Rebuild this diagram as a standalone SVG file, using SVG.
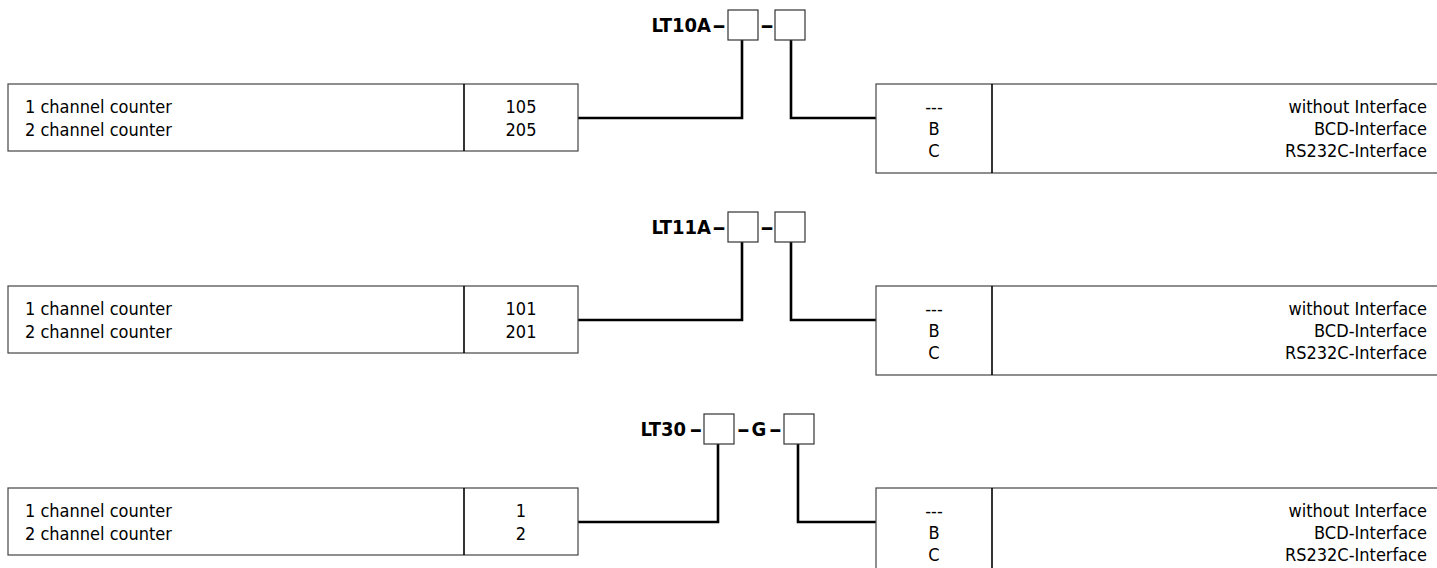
<svg xmlns="http://www.w3.org/2000/svg" width="1437" height="568" viewBox="0 0 1437 568">
<style>
.t{font-family:"DejaVu Sans Condensed","DejaVu Sans",sans-serif;font-stretch:condensed;font-size:18px;fill:#000}
.b{font-family:"DejaVu Sans Condensed","DejaVu Sans",sans-serif;font-stretch:condensed;font-size:20px;font-weight:bold;fill:#000}
.d{font-family:"DejaVu Sans",sans-serif;font-size:20px;font-weight:bold;fill:#000;text-anchor:middle}
.box{fill:#fff;stroke:#444;stroke-width:1.2}
.div{stroke:#000;stroke-width:1.6}
.sq{fill:#fff;stroke:#333;stroke-width:1.2}
.c{fill:none;stroke:#000;stroke-width:2.6}
.m{text-anchor:middle}
.e{text-anchor:end}
</style>
<rect width="1437" height="568" fill="#fff"/>
<g id="connectors">
<polyline class="c" points="578,118 742,118 742,40"/>
<polyline class="c" points="791,40 791,118 876,118"/>
<polyline class="c" points="578,320 742,320 742,242"/>
<polyline class="c" points="791,242 791,320 876,320"/>
<polyline class="c" points="578,522 718,522 718,444"/>
<polyline class="c" points="798,444 798,522 876,522"/>
</g>
<g id="code1">
<text class="b e" x="711" y="32">LT10A</text>
<text class="d" transform="translate(719,32) scale(1.7,1)">-</text>
<rect class="sq" x="728" y="10" width="30" height="30"/>
<text class="d" transform="translate(767,32) scale(1.7,1)">-</text>
<rect class="sq" x="775" y="10" width="30" height="30"/>
</g>
<g id="counter1">
<rect class="box" x="8" y="84" width="570" height="67"/>
<line class="div" x1="464" y1="84" x2="464" y2="151"/>
<text class="t" x="25" y="112.5">1 channel counter</text>
<text class="t" x="25" y="135.5">2 channel counter</text>
<text class="t m" x="521" y="112.5">105</text>
<text class="t m" x="521" y="135.5">205</text>
</g>
<g id="interface1">
<rect class="box" x="876" y="84" width="570" height="89"/>
<line class="div" x1="992" y1="84" x2="992" y2="173"/>
<text class="t m" x="934" y="112.5">---</text>
<text class="t m" x="934" y="135">B</text>
<text class="t m" x="934" y="157">C</text>
<text class="t e" x="1427" y="112.5">without Interface</text>
<text class="t e" x="1427" y="135">BCD-Interface</text>
<text class="t e" x="1427" y="157">RS232C-Interface</text>
</g>
<g id="code2">
<text class="b e" x="711" y="234">LT11A</text>
<text class="d" transform="translate(719,234) scale(1.7,1)">-</text>
<rect class="sq" x="728" y="212" width="30" height="30"/>
<text class="d" transform="translate(767,234) scale(1.7,1)">-</text>
<rect class="sq" x="775" y="212" width="30" height="30"/>
</g>
<g id="counter2">
<rect class="box" x="8" y="286" width="570" height="67"/>
<line class="div" x1="464" y1="286" x2="464" y2="353"/>
<text class="t" x="25" y="314.5">1 channel counter</text>
<text class="t" x="25" y="337.5">2 channel counter</text>
<text class="t m" x="521" y="314.5">101</text>
<text class="t m" x="521" y="337.5">201</text>
</g>
<g id="interface2">
<rect class="box" x="876" y="286" width="570" height="89"/>
<line class="div" x1="992" y1="286" x2="992" y2="375"/>
<text class="t m" x="934" y="314.5">---</text>
<text class="t m" x="934" y="337">B</text>
<text class="t m" x="934" y="359">C</text>
<text class="t e" x="1427" y="314.5">without Interface</text>
<text class="t e" x="1427" y="337">BCD-Interface</text>
<text class="t e" x="1427" y="359">RS232C-Interface</text>
</g>
<g id="code3">
<text class="b e" x="686" y="436">LT30</text>
<text class="d" transform="translate(696,436) scale(1.6,1)">-</text>
<rect class="sq" x="704" y="414" width="30" height="30"/>
<text class="d" transform="translate(743.5,436) scale(1.6,1)">-</text>
<text class="b m" x="759" y="436">G</text>
<text class="d" transform="translate(775.5,436) scale(1.6,1)">-</text>
<rect class="sq" x="784" y="414" width="30" height="30"/>
</g>
<g id="counter3">
<rect class="box" x="8" y="488" width="570" height="67"/>
<line class="div" x1="464" y1="488" x2="464" y2="555"/>
<text class="t" x="25" y="516.5">1 channel counter</text>
<text class="t" x="25" y="539.5">2 channel counter</text>
<text class="t m" x="521" y="516.5">1</text>
<text class="t m" x="521" y="539.5">2</text>
</g>
<g id="interface3">
<rect class="box" x="876" y="488" width="570" height="89"/>
<line class="div" x1="992" y1="488" x2="992" y2="577"/>
<text class="t m" x="934" y="516.5">---</text>
<text class="t m" x="934" y="539">B</text>
<text class="t m" x="934" y="561">C</text>
<text class="t e" x="1427" y="516.5">without Interface</text>
<text class="t e" x="1427" y="539">BCD-Interface</text>
<text class="t e" x="1427" y="561">RS232C-Interface</text>
</g>
</svg>
